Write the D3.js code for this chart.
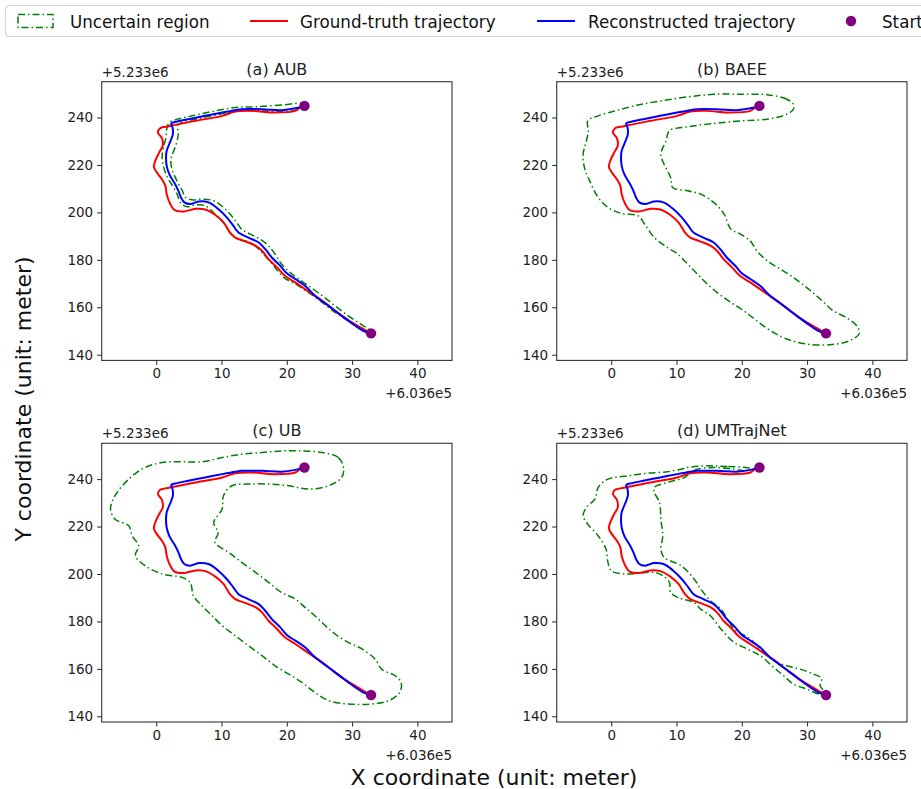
<!DOCTYPE html>
<html><head><meta charset="utf-8">
<script src="https://cdn.jsdelivr.net/npm/d3@7"></script>
<style>body{margin:0;background:#fff;} svg{display:block;font-family:"DejaVu Sans",sans-serif;}</style>
</head><body><svg id="chart" width="921" height="789"></svg>
<script>
// ---------------- data ----------------
const panelTitles = ["(a) AUB", "(b) BAEE", "(c) UB", "(d) UMTrajNet"];
const xTicks = [0, 10, 20, 30, 40];
const yTicks = [140, 160, 180, 200, 220, 240];
const xOffsetLabel = "+6.036e5";
const yOffsetLabel = "+5.233e6";
const legendLabels = ["Uncertain region", "Ground-truth trajectory", "Reconstructed trajectory", "Start"];
const startPoints = [[22.7, 244.9], [32.9, 149.0]];

const groundTruth = [
  [22.0,244.2],[21.3,242.8],[18.2,242.1],[14.6,242.8],[12.1,242.5],[10.1,240.7],[6.0,238.6],
  [2.9,236.9],[1.4,236.1],[0.6,235.5],[0.26,233.7],[0.87,231.3],[1.0,228.1],[0.46,225.3],
  [-0.15,221.7],[-0.36,219.2],[0.1,216.8],[0.87,214.0],[1.4,211.2],[1.6,207.7],[2.1,203.8],
  [2.8,201.0],[4.2,200.4],[6.0,201.5],[7.5,201.2],[9.0,199.0],[10.3,195.8],[11.3,191.5],
  [12.1,189.4],[13.6,187.8],[15.2,186.0],[16.2,183.8],[17.2,180.3],[18.5,176.8],[19.7,173.3],
  [21.3,170.5],[23.3,166.7],[25.4,162.8],[27.4,158.5],[29.4,154.6],[31.5,151.2],[32.8,149.0]
];

const reconstructed = [
  [22.7,244.9],[21.3,243.9],[19.2,243.1],[16.2,243.5],[13.1,243.5],[12.1,243.1],[10.1,242.1],
  [7.5,240.7],[4.9,239.3],[3.2,238.3],[2.3,237.5],[2.5,235.8],[2.55,233.0],[2.1,229.5],
  [1.6,226.0],[1.5,223.1],[1.6,219.6],[2.0,216.1],[2.9,211.9],[3.4,209.1],[3.8,206.3],
  [4.3,204.2],[5.2,203.5],[6.5,204.6],[8.0,204.2],[9.5,201.4],[10.8,197.9],[11.8,194.4],
  [12.6,191.5],[14.1,189.4],[15.7,187.3],[16.7,184.5],[17.7,181.0],[19.0,177.5],[20.0,174.3],
  [21.3,171.9],[22.8,169.1],[24.3,164.9],[26.4,160.6],[28.4,156.4],[30.5,152.2],[31.7,150.1],
  [32.8,149.0]
];

const regionAUB = [
  [22.7,245.9],[19.2,245.3],[15.2,244.5],[12.1,244.2],[8.5,242.5],[5.5,240.7],[2.9,239.0],
  [2.0,237.9],[1.6,235.1],[1.5,231.6],[1.1,227.4],[0.9,223.1],[1.1,219.6],[1.6,215.4],
  [2.5,211.2],[3.2,207.7],[3.8,203.8],[4.7,202.4],[6.0,203.2],[7.5,202.8],[9.0,199.3],
  [10.3,195.8],[11.3,191.5],[12.6,188.7],[14.4,187.3],[15.7,184.5],[16.9,181.0],[18.2,176.8],
  [19.5,172.6],[21.3,169.8],[23.3,166.3],[25.4,162.1],[27.4,157.8],[29.4,154.3],[31.5,150.4],
  [32.9,148.4],[32.9,149.8],[31.5,152.6],[29.4,156.4],[27.4,160.6],[25.4,164.9],[23.3,169.1],
  [21.8,171.9],[20.5,174.7],[19.2,178.2],[18.2,182.4],[17.2,185.9],[15.9,188.7],[14.4,190.8],
  [13.1,192.9],[12.3,195.8],[11.3,199.3],[10.3,202.1],[8.8,204.9],[7.0,205.6],[5.5,205.3],
  [4.5,206.3],[4.0,209.1],[3.3,212.6],[2.7,216.1],[2.3,219.6],[2.3,223.1],[2.8,226.7],
  [3.2,230.2],[3.4,233.7],[3.2,236.5],[3.9,237.9],[6.0,239.3],[8.5,240.7],[11.1,242.1],
  [13.1,242.8],[16.2,242.8],[19.2,242.5],[21.8,243.5]
];

const regionBAEE = [
  [27.9,245.6],[26.9,247.7],[23.9,249.6],[19.8,249.8],[15.7,249.8],[11.7,248.7],[7.6,247.0],
  [4.1,245.3],[1.0,243.1],[-2.0,240.7],[-3.6,238.6],[-3.5,234.4],[-3.8,230.2],[-4.3,224.6],
  [-4.1,218.9],[-3.3,213.3],[-2.0,206.3],[-0.5,202.1],[1.5,199.6],[4.1,198.6],[5.1,195.1],
  [6.6,189.4],[8.6,185.2],[10.2,182.4],[11.7,178.2],[13.2,174.0],[14.7,169.8],[16.5,165.6],
  [18.3,162.1],[20.3,158.5],[22.3,154.3],[24.4,150.1],[26.9,146.6],[29.9,144.5],[33.5,144.2],
  [36.5,145.9],[38.0,149.0],[37.6,152.2],[36.0,155.7],[34.0,158.5],[32.0,163.5],[29.9,168.4],
  [27.9,172.6],[25.9,176.1],[23.9,179.6],[22.3,183.8],[21.3,188.0],[19.8,190.8],[18.3,193.0],
  [17.3,199.3],[15.7,204.2],[13.7,207.7],[11.7,209.1],[9.4,210.5],[9.1,214.7],[8.1,220.3],
  [7.6,224.6],[8.4,230.2],[8.9,234.4],[11.7,236.1],[15.7,237.5],[19.8,238.6],[23.9,239.3],
  [26.9,241.4],[27.9,243.5]
];

const regionUB = [
  [28.7,244.5],[27.9,249.1],[25.4,251.2],[22.3,251.9],[19.2,251.9],[16.2,251.2],[13.1,250.5],
  [10.1,249.1],[7.0,247.3],[3.9,247.3],[0.9,247.0],[-1.7,244.9],[-4.2,240.0],[-6.3,233.0],
  [-7.0,227.4],[-6.3,223.1],[-4.2,220.3],[-3.7,216.1],[-2.7,211.9],[-3.2,207.7],[-1.7,203.5],
  [0.9,200.0],[3.9,198.6],[5.2,196.5],[5.7,190.8],[7.0,186.6],[8.3,183.1],[10.1,178.2],
  [12.1,174.0],[14.1,169.8],[16.2,165.6],[18.2,161.3],[20.3,157.8],[22.3,154.3],[24.3,150.1],
  [26.4,146.6],[29.4,145.2],[33.0,145.2],[35.6,146.6],[37.3,150.1],[37.5,154.3],[36.6,157.1],
  [34.5,159.9],[33.5,164.2],[31.5,168.4],[29.4,171.2],[27.4,174.7],[25.9,178.2],[24.3,182.4],
  [22.8,185.9],[21.3,189.4],[19.2,192.2],[17.2,196.5],[15.2,200.7],[13.1,204.9],[11.1,209.1],
  [9.0,213.3],[9.5,217.5],[8.8,221.7],[10.1,227.4],[10.3,233.0],[11.6,237.2],[14.1,237.9],
  [17.2,237.9],[20.3,237.2],[23.3,235.8],[26.4,237.2],[28.4,240.7]
];

const regionUMTrajNet = [
  [21.3,244.5],[17.8,245.3],[14.7,245.6],[11.7,244.9],[10.7,244.2],[8.6,243.1],[5.6,242.5],
  [2.5,241.4],[-0.5,240.0],[-2.0,236.5],[-2.5,231.6],[-3.8,228.1],[-4.3,224.6],[-3.6,221.0],
  [-2.0,216.1],[-0.8,210.5],[-0.5,204.9],[0.0,201.4],[2.0,200.0],[4.6,200.4],[6.6,200.7],
  [7.9,199.3],[8.9,196.5],[9.1,192.2],[10.2,190.1],[12.7,188.0],[13.7,185.2],[15.2,182.4],
  [16.8,176.8],[18.8,171.2],[20.8,168.4],[22.8,165.6],[24.9,160.6],[26.4,157.1],[27.9,153.6],
  [29.9,151.5],[32.0,149.4],[32.5,150.4],[32.0,152.9],[32.2,156.0],[31.0,157.8],[28.9,159.9],
  [26.9,161.3],[24.9,163.5],[22.8,168.4],[21.3,172.6],[18.8,176.8],[17.8,181.0],[16.8,185.2],
  [15.2,188.7],[13.7,193.7],[12.7,197.9],[10.7,203.5],[8.1,207.0],[7.6,210.5],[7.9,216.1],
  [7.6,223.1],[7.4,230.2],[6.6,234.4],[6.6,236.5],[8.6,238.6],[11.2,240.7],[12.2,242.8],
  [13.2,244.2],[15.7,244.9],[18.8,244.2],[20.8,243.5]
];

const regions = [regionAUB, regionBAEE, regionUB, regionUMTrajNet];

// ---------------- layout ----------------
const svg = d3.select("#chart");
const W = 350.3, H = 278.7;
const origins = [[101.7, 81.7], [556.7, 81.7], [101.7, 443.3], [556.7, 443.3]];
const xDomain = [-8.35, 45.3], yDomain = [137.6, 255.1];
const COL = {green: "#008000", red: "#ff0000", blue: "#0000ff", purple: "#800080"};

origins.forEach(([ox, oy], i) => {
  const x = d3.scaleLinear().domain(xDomain).range([0, W]);
  const y = d3.scaleLinear().domain(yDomain).range([H, 0]);
  const g = svg.append("g").attr("transform", `translate(${ox},${oy})`);

  const lineOpen = d3.line().x(d => x(d[0])).y(d => y(d[1])).curve(d3.curveCatmullRom.alpha(0.5));
  const lineClosed = d3.line().x(d => x(d[0])).y(d => y(d[1])).curve(d3.curveCatmullRomClosed.alpha(0.5));

  g.append("path").datum(regions[i]).attr("d", lineClosed)
    .attr("fill", "none").attr("stroke", COL.green).attr("stroke-width", 1.5)
    .attr("stroke-dasharray", "7,3,1.5,3");
  g.append("path").datum(groundTruth).attr("d", lineOpen)
    .attr("fill", "none").attr("stroke", COL.red).attr("stroke-width", 2);
  g.append("path").datum(reconstructed).attr("d", lineOpen)
    .attr("fill", "none").attr("stroke", COL.blue).attr("stroke-width", 2);
  g.selectAll("circle.sp").data(startPoints).join("circle").attr("class", "sp")
    .attr("cx", d => x(d[0])).attr("cy", d => y(d[1])).attr("r", 5.2).attr("fill", COL.purple);

  // axes
  const xa = g.append("g").attr("transform", `translate(0,${H})`)
    .call(d3.axisBottom(x).tickValues(xTicks).tickSize(4.5).tickPadding(4).tickFormat(d3.format("d")));
  const ya = g.append("g")
    .call(d3.axisLeft(y).tickValues(yTicks).tickSize(4.5).tickPadding(4).tickFormat(d3.format("d")));
  [xa, ya].forEach(a => {
    a.select(".domain").remove();
    a.selectAll("line").attr("stroke", "#222");
    a.selectAll("text").attr("font-size", 13.5).attr("fill", "#222").attr("font-family", "DejaVu Sans");
  });
  g.append("rect").attr("width", W).attr("height", H).attr("fill", "none")
    .attr("stroke", "#333").attr("stroke-width", 1.1);

  g.append("text").attr("x", W / 2).attr("y", -7).attr("text-anchor", "middle")
    .attr("font-size", 16).attr("fill", "#222").text(panelTitles[i]);
  g.append("text").attr("x", 0).attr("y", -5).attr("font-size", 13.5).attr("fill", "#222").text(yOffsetLabel);
  g.append("text").attr("x", W).attr("y", H + 38).attr("text-anchor", "end")
    .attr("font-size", 13.5).attr("fill", "#222").text(xOffsetLabel);
});

// axis labels
svg.append("text").attr("x", 494).attr("y", 785).attr("text-anchor", "middle")
  .attr("font-size", 22).attr("fill", "#111").text("X coordinate (unit: meter)");
svg.append("text").attr("transform", "translate(31,399) rotate(-90)").attr("text-anchor", "middle")
  .attr("font-size", 22).attr("fill", "#111").text("Y coordinate (unit: meter)");

// legend
const lg = svg.append("g");
lg.append("rect").attr("x", 5.5).attr("y", 5.5).attr("width", 940).attr("height", 31).attr("rx", 4)
  .attr("fill", "#fff").attr("stroke", "#d4d4d4").attr("stroke-width", 1.2);
const ly = 21;
lg.append("rect").attr("x", 18).attr("y", ly - 6.5).attr("width", 35).attr("height", 13)
  .attr("fill", "none").attr("stroke", COL.green).attr("stroke-width", 1.5).attr("stroke-dasharray", "7,3,1.5,3");
lg.append("line").attr("x1", 250).attr("x2", 288).attr("y1", ly).attr("y2", ly).attr("stroke", COL.red).attr("stroke-width", 2);
lg.append("line").attr("x1", 537).attr("x2", 575).attr("y1", ly).attr("y2", ly).attr("stroke", COL.blue).attr("stroke-width", 2);
lg.append("circle").attr("cx", 851).attr("cy", ly).attr("r", 5.2).attr("fill", COL.purple);
const textX = [70, 300, 588, 882];
legendLabels.forEach((t, k) => {
  lg.append("text").attr("transform", `translate(${textX[k]},${ly + 6.5}) scale(0.93,1)`)
    .attr("font-size", 18).attr("fill", "#111").text(t);
});
</script></body></html>
